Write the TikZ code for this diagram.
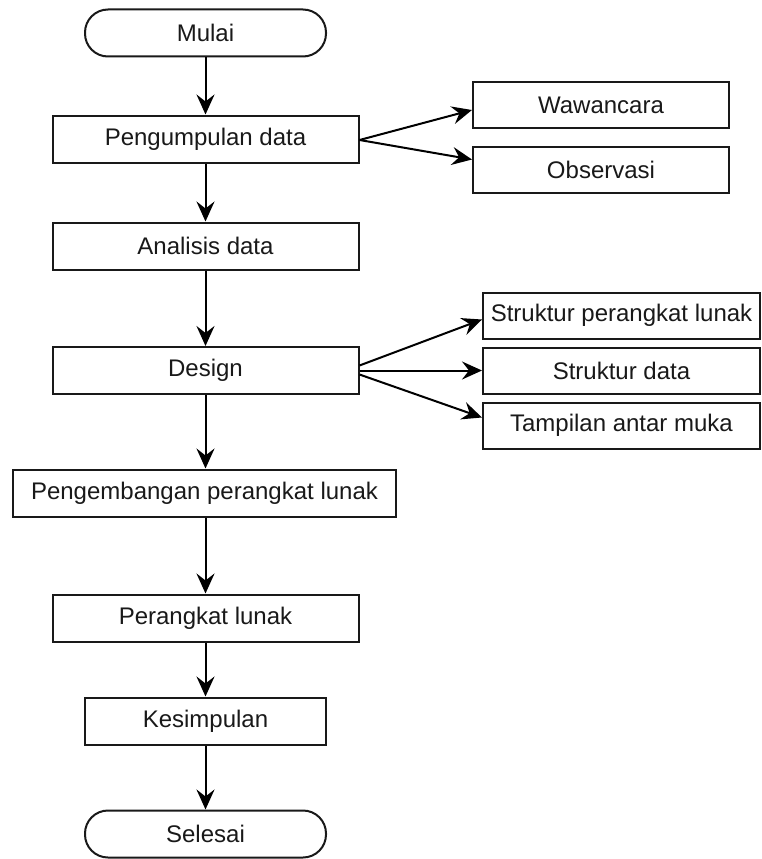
\documentclass[tikz,border=0pt]{standalone}
\usepackage{fontspec}
\setmainfont{Liberation Sans}
\usetikzlibrary{arrows.meta}
\begin{document}
\begin{tikzpicture}[x=1pt,y=-1pt,
  every node/.style={font=\fontsize{24}{28}\selectfont, text=black!90},
  box/.style={draw=black!90, line width=2pt, rectangle, inner sep=0pt,
              minimum height=47pt, fill=white},
  term/.style={box, rounded corners=23pt},
  flow/.style={line width=2pt, draw=black,
               -{Stealth[length=20pt,width=18pt,inset=7pt]}}]
  \useasboundingbox[fill=white] (0,0) rectangle (761,859);

  % main column
  \node[term, minimum width=241pt] (mulai) at (205.5,33) {Mulai};
  \node[box, minimum width=306pt]  (kumpul) at (205.5,139) {Pengumpulan data};
  \node[box, minimum width=306pt]  (analisis) at (205.5,246) {Analisis data};
  \node[box, minimum width=306pt]  (design) at (205.5,370.5) {Design};
  \node[box, minimum width=383pt]  (kembang) at (204.5,493) {Pengembangan perangkat lunak};
  \node[box, minimum width=306pt]  (pl) at (205.5,618) {Perangkat lunak};
  \node[box, minimum width=241pt]  (simpul) at (205.5,721) {Kesimpulan};
  \node[term, minimum width=241pt] (selesai) at (205.5,834) {Selesai};

  % data collection methods
  \node[box, minimum width=256pt, minimum height=46pt] (wawan) at (601,105) {Wawancara};
  \node[box, minimum width=256pt, minimum height=46pt] (obs) at (601,169.5) {Observasi};

  % design outputs
  \node[box, minimum width=277pt, minimum height=46pt] (spl) at (621.5,315.5) {Struktur perangkat lunak};
  \node[box, minimum width=277pt, minimum height=46pt] (sdata) at (621.5,371) {Struktur data};
  \node[box, minimum width=277pt, minimum height=46pt] (tampil) at (621.5,425.5) {Tampilan antar muka};

  % main flow
  \draw[flow] (mulai) -- (kumpul);
  \draw[flow] (kumpul) -- (analisis);
  \draw[flow] (analisis) -- (design);
  \draw[flow] (design) -- (kembang.north -| design);
  \draw[flow] (kembang.south -| pl) -- (pl);
  \draw[flow] (pl) -- (simpul);
  \draw[flow] (simpul) -- (selesai);

  % branches
  \draw[flow] ([yshift=-1pt]kumpul.east) -- ([yshift=-5pt]wawan.west);
  \draw[flow] ([yshift=-1pt]kumpul.east) -- ([yshift=10pt]obs.west);
  \draw[flow] ([yshift=5pt]design.east) -- ([yshift=-4pt]spl.west);
  \draw[flow] ([yshift=0pt]design.east) -- (design.east -| sdata.west);
  \draw[flow] ([yshift=-4pt]design.east) -- ([yshift=8pt]tampil.west);
\end{tikzpicture}
\end{document}
